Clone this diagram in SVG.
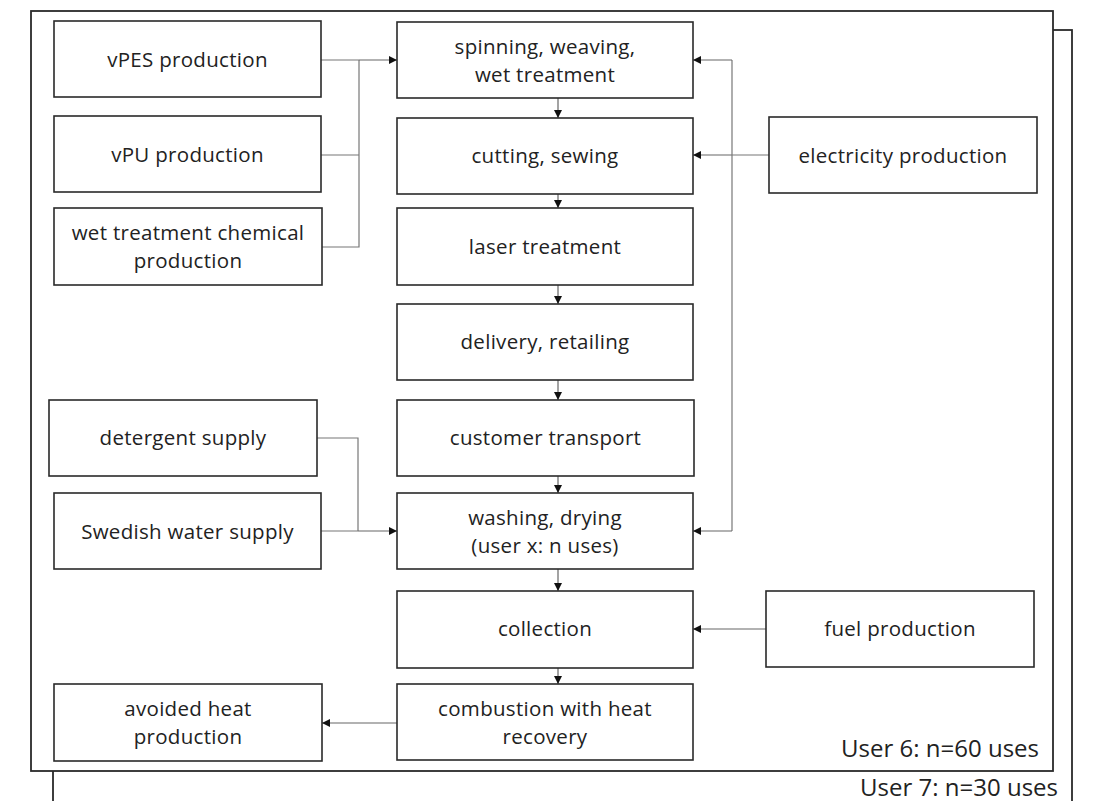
<svg xmlns="http://www.w3.org/2000/svg" width="1100" height="801" viewBox="0 0 1100 801">
<style>
.box{fill:#fff;stroke:#2a2a2a;stroke-width:1.6}
.frame{fill:#fff;stroke:#2a2a2a;stroke-width:1.8}
.t{font-family:"Open Sans","Noto Sans",sans-serif;font-size:20.5px;letter-spacing:0.3px;fill:#222;text-anchor:middle}
.lbl{font-family:"Open Sans","Noto Sans",sans-serif;font-size:24px;fill:#222;text-anchor:end}
.c{fill:none;stroke:#777;stroke-width:1.2}
.ca{fill:none;stroke:#666;stroke-width:1.2;marker-end:url(#ah)}
</style>
<defs>
<marker id="ah" viewBox="0 0 10 10" refX="10" refY="5" markerWidth="9" markerHeight="8" markerUnits="userSpaceOnUse" orient="auto">
<path d="M0,0 L10,5 L0,10 z" fill="#111"/>
</marker>
</defs>
<rect x="0" y="0" width="1100" height="801" fill="#fff"/>
<g id="frame-user7">
<rect class="frame" x="53" y="30" width="1019" height="800"/>
<text class="lbl" x="1058" y="796">User 7: n=30 uses</text>
</g>
<g id="frame-user6">
<rect class="frame" x="31" y="11" width="1022" height="760"/>
<text class="lbl" x="1039" y="757">User 6: n=60 uses</text>
</g>
<g id="connectors">
<path class="c" d="M321,60 H359"/>
<path class="c" d="M321,155 H359"/>
<path class="c" d="M322,247 H359 V60"/>
<path class="ca" d="M359,60 H397"/>
<path class="c" d="M769,155 H732"/>
<path class="ca" d="M732,155 H693"/>
<path class="c" d="M732,60 V531"/>
<path class="ca" d="M732,60 H693"/>
<path class="ca" d="M732,531 H693"/>
<path class="c" d="M317,438 H358 V531"/>
<path class="c" d="M321,531 H358"/>
<path class="ca" d="M358,531 H397"/>
<path class="ca" d="M558,98 V118"/>
<path class="ca" d="M558,194 V208"/>
<path class="ca" d="M558,285 V304"/>
<path class="ca" d="M558,380 V400"/>
<path class="ca" d="M558,476 V493"/>
<path class="ca" d="M558,569 V591"/>
<path class="ca" d="M558,668 V684"/>
<path class="ca" d="M766,629 H693"/>
<path class="ca" d="M397,723 H322"/>
</g>
<g id="vpes"><rect class="box" x="54" y="21" width="267" height="76"/><text class="t" x="187.5" y="67">vPES production</text></g>
<g id="vpu"><rect class="box" x="54" y="116" width="267" height="76"/><text class="t" x="187.5" y="162">vPU production</text></g>
<g id="wetchem"><rect class="box" x="54" y="208" width="268" height="77"/><text class="t" x="188" y="240">wet treatment chemical</text><text class="t" x="188" y="268">production</text></g>
<g id="detergent"><rect class="box" x="49" y="400" width="268" height="76"/><text class="t" x="183" y="445">detergent supply</text></g>
<g id="water"><rect class="box" x="54" y="493" width="267" height="76"/><text class="t" x="187.5" y="539">Swedish water supply</text></g>
<g id="avoided"><rect class="box" x="54" y="684" width="268" height="77"/><text class="t" x="188" y="716">avoided heat</text><text class="t" x="188" y="744">production</text></g>
<g id="spinning"><rect class="box" x="397" y="22" width="296" height="76"/><text class="t" x="545" y="54">spinning, weaving,</text><text class="t" x="545" y="82">wet treatment</text></g>
<g id="cutting"><rect class="box" x="397" y="118" width="296" height="76"/><text class="t" x="545" y="163">cutting, sewing</text></g>
<g id="laser"><rect class="box" x="397" y="208" width="296" height="77"/><text class="t" x="545" y="254">laser treatment</text></g>
<g id="delivery"><rect class="box" x="397" y="304" width="296" height="76"/><text class="t" x="545" y="349">delivery, retailing</text></g>
<g id="customer"><rect class="box" x="397" y="400" width="297" height="76"/><text class="t" x="545.5" y="445">customer transport</text></g>
<g id="washing"><rect class="box" x="397" y="493" width="296" height="76"/><text class="t" x="545" y="525">washing, drying</text><text class="t" x="545" y="553">(user x: n uses)</text></g>
<g id="collection"><rect class="box" x="397" y="591" width="296" height="77"/><text class="t" x="545" y="636">collection</text></g>
<g id="combustion"><rect class="box" x="397" y="684" width="296" height="76"/><text class="t" x="545" y="716">combustion with heat</text><text class="t" x="545" y="744">recovery</text></g>
<g id="electricity"><rect class="box" x="769" y="117" width="268" height="76"/><text class="t" x="903" y="163">electricity production</text></g>
<g id="fuel"><rect class="box" x="766" y="591" width="268" height="76"/><text class="t" x="900" y="636">fuel production</text></g>
</svg>
